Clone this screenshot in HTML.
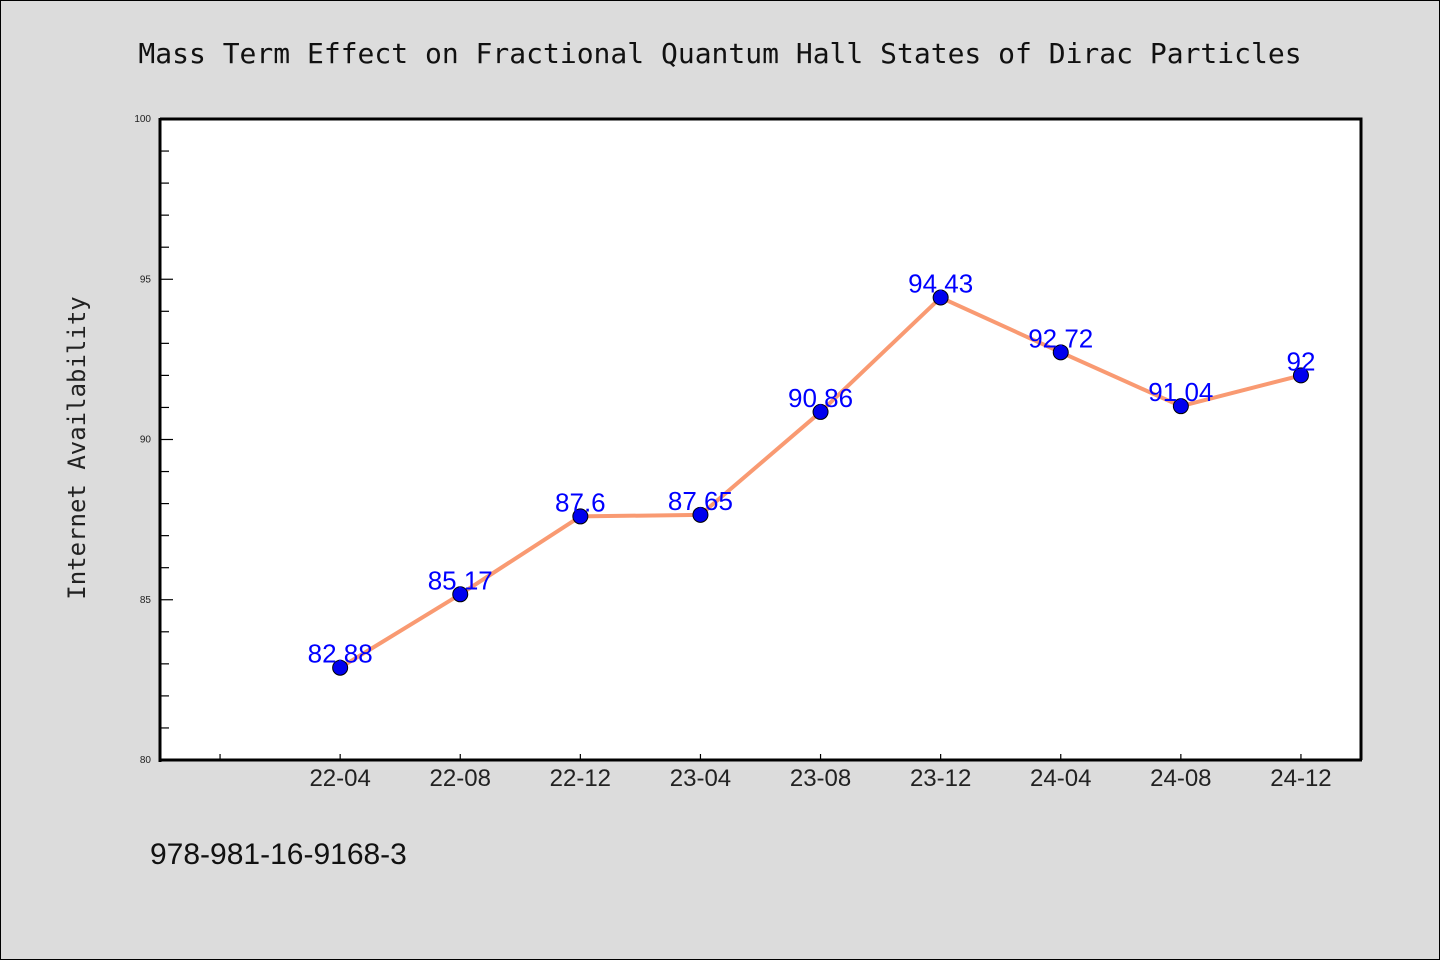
<!DOCTYPE html>
<html><head><meta charset="utf-8"><style>
body{margin:0;background:#dcdcdc;}
svg{display:block;font-family:"Liberation Sans","DejaVu Sans",sans-serif;}
</style></head><body>
<svg id="chart" width="1440" height="960" viewBox="0 0 1440 960">
<rect x="0.5" y="0.5" width="1439" height="959" fill="#dcdcdc" stroke="#000" stroke-width="1"/>
<text x="720" y="63" text-anchor="middle" font-size="28" font-family="DejaVu Sans Mono, Liberation Mono, monospace" fill="#111">Mass Term Effect on Fractional Quantum Hall States of Dirac Particles</text>
<rect x="160" y="119" width="1201" height="641" fill="#fff"/>
<text transform="translate(85,448) rotate(-90)" text-anchor="middle" font-size="24" font-family="DejaVu Sans Mono, Liberation Mono, monospace" fill="#222">Internet Availability</text>
<text x="150" y="864" font-size="30" fill="#111">978-981-16-9168-3</text>
<g id="axes"></g>
<g id="marks"></g>
<path d="M160,119 H1361 V760" fill="none" stroke="#000" stroke-width="3"/>
<line x1="160" y1="118" x2="160" y2="762" stroke="#000" stroke-width="3"/>
<line x1="159" y1="760" x2="1362" y2="760" stroke="#000" stroke-width="3"/>
</svg>
<script>
const categories = ['', '22-04','22-08','22-12','23-04','23-08','23-12','24-04','24-08','24-12'];
const values = [null, 82.88, 85.17, 87.6, 87.65, 90.86, 94.43, 92.72, 91.04, 92];
const valueLabels = ['', '82.88','85.17','87.6','87.65','90.86','94.43','92.72','91.04','92'];
const yTicks = [80,85,90,95,100];
const yMin = 80, yMax = 100;
const L=160,R=1361,T=119,B=760;
const NS='http://www.w3.org/2000/svg';
function y(v){return B-(v-yMin)/(yMax-yMin)*(B-T);}
function x(i){const bw=(R-L)/categories.length;return L+bw*(i+0.5);}
const axes=document.getElementById('axes'), marks=document.getElementById('marks');
function mk(tag,attrs,parent){const e=document.createElementNS(NS,tag);for(const k in attrs)e.setAttribute(k,attrs[k]);parent.appendChild(e);return e;}
for(let v=yMin;v<=yMax;v++){
  const major=yTicks.includes(v);
  const t=mk('line',{x1:L,x2:L+(major?13:9),y1:y(v),y2:y(v),stroke:'#000','stroke-width':1.2},axes);
  
  
}
yTicks.forEach(v=>{
  const t=mk('text',{x:151,y:y(v)+3,'text-anchor':'end','font-size':10,fill:'#222'},axes);
  t.textContent=v;
  
  
});
categories.forEach((c,i)=>{
  const t=mk('line',{x1:x(i),x2:x(i),y1:B,y2:B-6,stroke:'#000','stroke-width':1.2},axes);
  
  
  if(c){
    const l=mk('text',{x:x(i),y:786,'text-anchor':'middle','font-size':24,fill:'#222'},axes);
    l.textContent=c;
    
    
  }
});
let d='';
values.forEach((v,i)=>{if(v!==null)d+=(d?'L':'M')+x(i)+','+y(v);});
const line=mk('path',{d:d,fill:'none',stroke:'#f99a72','stroke-width':4,'stroke-linejoin':'round'},marks);


values.forEach((v,i)=>{
  if(v===null)return;
  const c=mk('circle',{cx:x(i),cy:y(v),r:7.5,fill:'#0000ee',stroke:'#000','stroke-width':1},marks);
  
  
  const t=mk('text',{x:x(i),y:y(v)-5,'text-anchor':'middle','font-size':26,fill:'#0000ff'},marks);
  t.textContent=valueLabels[i];
  
  
});
</script>
</body></html>
